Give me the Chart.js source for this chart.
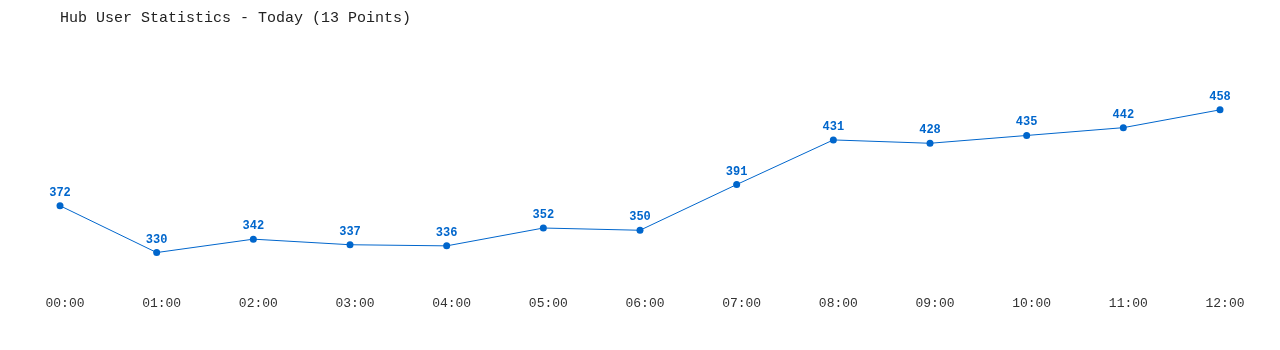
<!DOCTYPE html>
<html>
<head>
<meta charset="utf-8">
<script src="https://cdn.jsdelivr.net/npm/chart.js@4/dist/chart.umd.min.js"></script>
<style>
html,body{margin:0;padding:0;background:#fff;}
canvas{display:block;}
</style>
</head>
<body>
<canvas id="c" width="1280" height="350"></canvas>
<script>
const titleText = "Hub User Statistics - Today (13 Points)";
const hours = ["00:00","01:00","02:00","03:00","04:00","05:00","06:00","07:00","08:00","09:00","10:00","11:00","12:00"];
const users = [372,330,342,337,336,352,350,391,431,428,435,442,458];

const lineColor = "#0066cc";

const labelPlugin = {
  id: "pointLabels",
  afterDatasetsDraw(chart) {
    const ctx = chart.ctx;
    const meta = chart.getDatasetMeta(0);
    ctx.save();
    ctx.font = "bold 12px 'Liberation Mono', 'DejaVu Sans Mono', monospace";
    ctx.fillStyle = lineColor;
    ctx.textAlign = "center";
    ctx.textBaseline = "middle";
    meta.data.forEach((pt, i) => {
      ctx.fillText(String(users[i]), pt.x, pt.y - 13);
    });
    ctx.restore();
  },
  afterDraw(chart) {
    const ctx = chart.ctx;
    ctx.save();
    ctx.font = "15px 'Liberation Mono', 'DejaVu Sans Mono', monospace";
    ctx.fillStyle = "#222";
    ctx.textAlign = "left";
    ctx.textBaseline = "middle";
    ctx.fillText(titleText, 60, 18);
    ctx.restore();
  }
};

new Chart(document.getElementById("c"), {
  type: "line",
  data: {
    labels: hours,
    datasets: [{
      data: users,
      borderColor: lineColor,
      backgroundColor: lineColor,
      borderWidth: 1,
      pointRadius: 3.5,
      pointBackgroundColor: lineColor,
      pointBorderWidth: 0,
      tension: 0,
      fill: false
    }]
  },
  options: {
    responsive: false,
    animation: false,
    layout: { padding: { left: 60, right: 60, top: 63, bottom: 0 } },
    plugins: {
      legend: { display: false },
      title: { display: false },
      tooltip: { enabled: false }
    },
    scales: {
      x: {
        offset: false,
        grid: { display: false, drawTicks: false },
        border: { display: false },
        afterFit(scale) { scale.height = 64; },
        ticks: {
          color: "#333",
          padding: 10,
          labelOffset: 5,
          maxRotation: 0,
          autoSkip: false,
          font: { family: "'Liberation Mono', 'DejaVu Sans Mono', monospace", size: 13 }
        }
      },
      y: {
        display: false,
        min: 300,
        max: 500
      }
    }
  },
  plugins: [labelPlugin]
});
</script>
</body>
</html>
